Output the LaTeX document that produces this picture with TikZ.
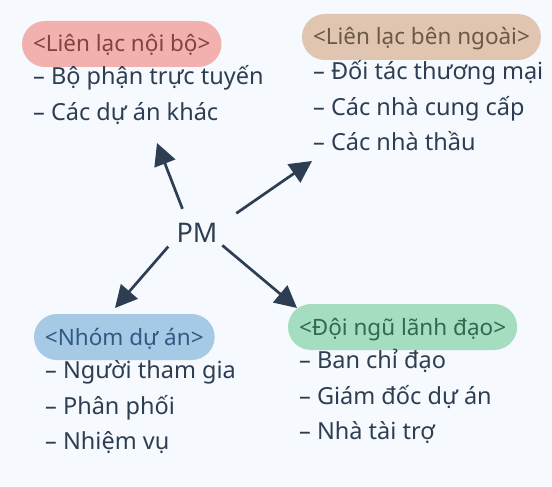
\documentclass[tikz,border=0pt]{standalone}
\usepackage{fontspec}
\setmainfont{Noto Sans}
\usetikzlibrary{positioning,arrows.meta}

\definecolor{paper}{HTML}{F6F9FD}
\definecolor{ink}{HTML}{2E3E52}
\definecolor{pinkpill}{HTML}{F2B1AE}
\definecolor{pinkink}{HTML}{86403F}
\definecolor{tanpill}{HTML}{E0C6B0}
\definecolor{tanink}{HTML}{6A5848}
\definecolor{bluepill}{HTML}{A6C9E5}
\definecolor{blueink}{HTML}{2F5B82}
\definecolor{greenpill}{HTML}{A4DDBF}
\definecolor{greenink}{HTML}{2E6B4E}

\begin{document}
\begin{tikzpicture}[
        x=1pt, y=1pt,
        heading/.style={rectangle, rounded corners=23pt, inner xsep=11pt, inner ysep=11pt, text height=20pt, text depth=4pt, font=\fontsize{22.5}{26}\selectfont, anchor=text},
        item/.style={rectangle, inner xsep=0pt, inner ysep=6.5pt, text height=17pt, text depth=5pt, text=ink, font=\fontsize{23.5}{28}\selectfont},
        beneath/.style={below=#1, anchor=north west},
        arrow/.style={line width=2.7pt, draw=ink, -{Triangle[length=22pt, width=22pt]}}
    ]
        \fill[paper] (0,0) rectangle (552,-487);
        \useasboundingbox (0,0) rectangle (552,-487);

        % Center
        \node (pm) [circle, minimum size=56pt, text=ink, font=\fontsize{27}{30}\selectfont] at (197,-233) {PM};

        % Headings
        \node (internal) [heading, fill=pinkpill, text=pinkink] at (33,-52) {<Liên lạc nội bộ>};
        \node (external) [heading, fill=tanpill, text=tanink] at (313,-45) {<Liên lạc bên ngoài>};
        \node (team) [heading, fill=bluepill, text=blueink] at (45,-345) {<Nhóm dự án>};
        \node (lead) [heading, fill=greenpill, text=greenink] at (299,-335) {<Đội ngũ lãnh đạo>};

        % Lists
        \node (internal1) [item, beneath=9pt of internal.text] {– Bộ phận trực tuyến};
        \node (internal2) [item, beneath=0pt of internal1.south west] {– Các dự án khác};

        \node (external1) [item, beneath=11pt of external.text] {– Đối tác thương mại};
        \node (external2) [item, beneath=0pt of external1.south west] {– Các nhà cung cấp};
        \node (external3) [item, beneath=0pt of external2.south west] {– Các nhà thầu};

        \node (team1) [item, beneath=10pt of team.text] {– Người tham gia};
        \node (team2) [item, beneath=0pt of team1.south west] {– Phân phối};
        \node (team3) [item, beneath=0pt of team2.south west] {– Nhiệm vụ};

        \node (lead1) [item, beneath=10pt of lead.text] {– Ban chỉ đạo};
        \node (lead2) [item, beneath=0pt of lead1.south west] {– Giám đốc dự án};
        \node (lead3) [item, beneath=0pt of lead2.south west] {– Nhà tài trợ};

        % Arrows
        \coordinate (internalTip) at (157,-143);
        \coordinate (externalTip) at (312,-161);
        \coordinate (teamTip) at (115,-308);
        \coordinate (leadTip) at (297,-308);

        \draw [arrow] (pm.121) -- (internalTip);
        \draw [arrow, shorten <=16pt] (pm.22) -- (externalTip);
        \draw [arrow, shorten <=4pt] (pm.202) -- (teamTip);
        \draw [arrow] (pm.334) -- (leadTip);
    \end{tikzpicture}
\end{document}
